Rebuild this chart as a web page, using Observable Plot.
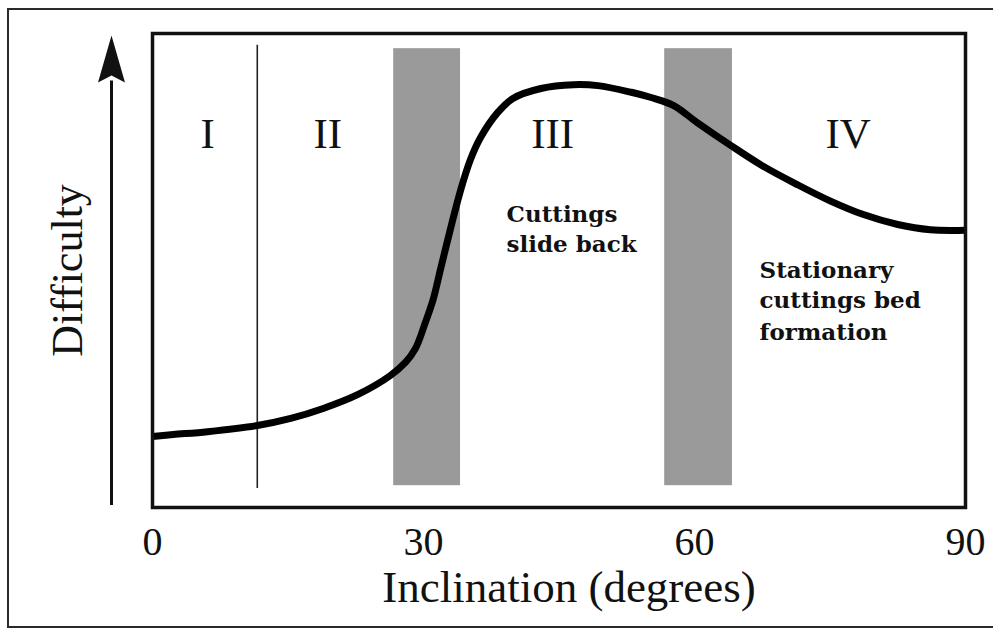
<!DOCTYPE html>
<html>
<head>
<meta charset="utf-8">
<script src="https://cdn.jsdelivr.net/npm/d3@7"></script>
<script src="https://cdn.jsdelivr.net/npm/@observablehq/plot@0.6"></script>
<style>
  html, body { margin: 0; padding: 0; background: #fff; }
  #wrap { position: relative; width: 993px; height: 630px; overflow: hidden; }
  #outer { position: absolute; left: 7px; top: 8px; width: 1020px; height: 616px; border: 2px solid #2a2a2a; pointer-events: none; }
  #wrap svg { position: absolute; left: 0; top: 0; }
</style>
</head>
<body>
<div id="wrap"><div id="outer"></div></div>
<script>
// Curve: inclination (degrees) vs relative difficulty (arbitrary units, 0-100)
const inclination = [0, 2.3, 6.1, 11.6, 15.3, 18.9, 22.7, 26.3, 28.0, 29.1, 30.2, 31.1, 31.9, 33.0, 34.1, 35.2, 36.3, 38.2, 39.9, 43.0, 46.6, 49.3, 53.0, 55.2, 57.7, 60.3, 64.0, 67.6, 71.4, 75.0, 78.7, 82.5, 86.1, 90];
const difficulty  = [15.0, 15.4, 16.0, 17.3, 18.8, 20.9, 23.8, 27.8, 30.6, 33.5, 39.0, 44.1, 50.4, 58.9, 66.9, 73.4, 78.0, 83.3, 86.3, 88.4, 89.2, 89.0, 87.6, 86.5, 84.8, 81.2, 76.4, 72.0, 68.1, 64.7, 61.8, 59.7, 58.6, 58.5];

// Transition bands (gray) and boundary I/II
const bandStart = [26.7, 56.7];
const bandEnd   = [34.1, 64.2];
const bandBottom = [4.6, 4.6];
const bandTop    = [96.8, 96.8];
const boundaryX = [11.6];

// Region labels
const regionLabels = ["I", "II", "III", "IV"];
const regionX = [6.1, 19.4, 44.3, 77.0];
const regionY = [78.7, 78.7, 78.7, 78.7];

// Notes (one entry per line)
const noteLines = ["Cuttings", "slide back", "Stationary", "cuttings bed", "formation"];
const noteX = [39.2, 39.2, 67.2, 67.2, 67.2];
const noteY = [60.3, 53.8, 48.5, 42.0, 35.4];

// Axis
const xTicks = [0, 30, 60, 90];
const xTitle = "Inclination (degrees)";
const yTitle = "Difficulty";

const arrowHead = {
  draw(ctx) {
    ctx.moveTo(0, 0);
    ctx.lineTo(13.5, 47);
    ctx.lineTo(0, 40);
    ctx.lineTo(-13.5, 47);
    ctx.closePath();
  }
};

const chart = Plot.plot({
  width: 993,
  height: 630,
  marginLeft: 152,
  marginRight: 28,
  marginTop: 33,
  marginBottom: 123,
  style: { fontFamily: "'Liberation Serif', serif", background: "transparent", color: "#111" },
  x: { domain: [0, 90], axis: null },
  y: { domain: [0, 100], axis: null },
  marks: [
    Plot.rect(bandStart, { x1: bandStart, x2: bandEnd, y1: bandBottom, y2: bandTop, fill: "#9a9a9a" }),
    Plot.ruleX(boundaryX, { y1: 4.0, y2: 97.5, stroke: "#222", strokeWidth: 1.6 }),
    Plot.line(difficulty, { x: inclination, y: difficulty, curve: "catmull-rom", stroke: "#000", strokeWidth: 7, strokeLinejoin: "round", strokeLinecap: "butt" }),
    Plot.frame({ stroke: "#111", strokeWidth: 3.5 }),
    Plot.axisX(xTicks, { tickSize: 0, tickPadding: 19, fontSize: 40, fill: "#111", label: null }),
    Plot.text(regionLabels, { x: regionX, y: regionY, text: regionLabels, fontSize: 43, fill: "#111", lineAnchor: "middle" }),
    Plot.text(noteLines, { x: noteX, y: noteY, text: noteLines, fontSize: 23, fontFamily: "DejaVu Serif", fontWeight: "bold", fill: "#111", textAnchor: "start", lineAnchor: "bottom" }),
    Plot.text([xTitle], { frameAnchor: "bottom", dx: 10, dy: 80, text: d => d, fontSize: 45, fill: "#111", lineAnchor: "middle" }),
    Plot.text([yTitle], { frameAnchor: "left", dx: -85, rotate: -90, text: d => d, fontSize: 44, fill: "#111", textAnchor: "middle", lineAnchor: "middle" }),
    Plot.ruleX([0], { y1: 0.4, y2: 90, dx: -41, stroke: "#111", strokeWidth: 3 }),
    Plot.dot([100], { x: () => 0, y: d => d, dx: -41, dy: 2, symbol: arrowHead, fill: "#111", stroke: "none" })
  ]
});
document.getElementById("wrap").appendChild(chart);
</script>
</body>
</html>
